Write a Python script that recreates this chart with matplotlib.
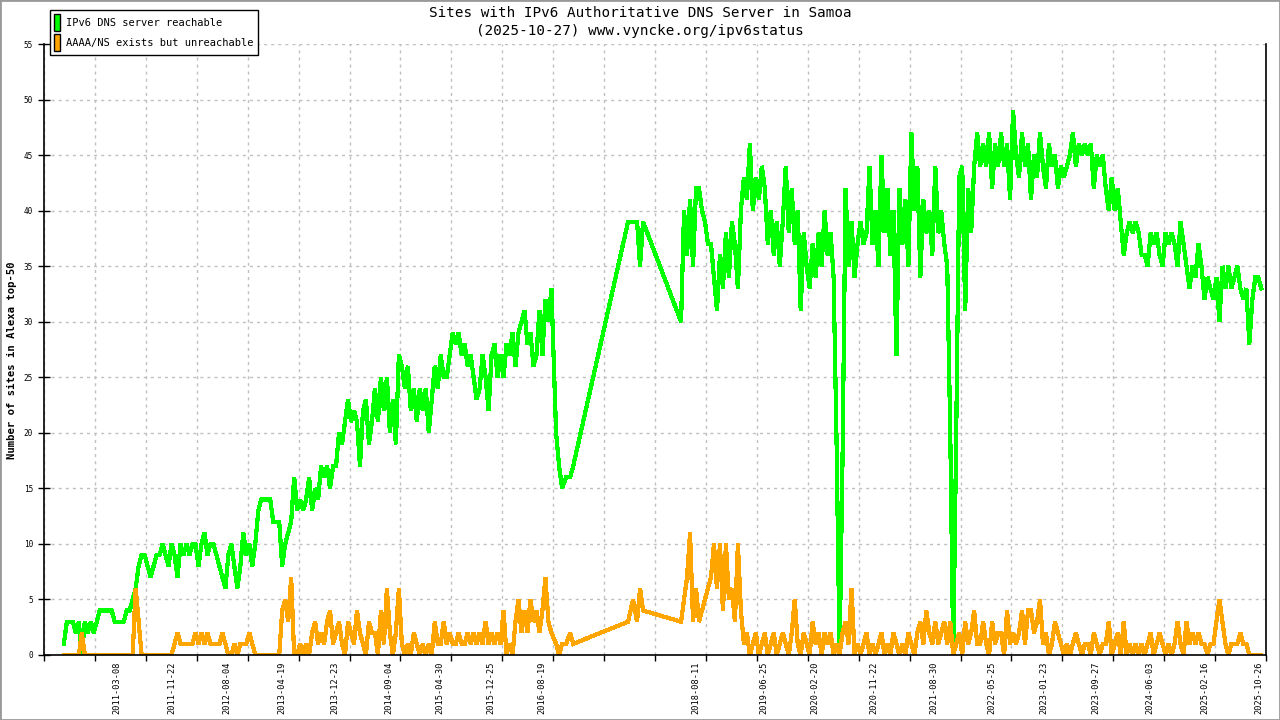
#!/usr/bin/env python3
"""Sites with IPv6 authoritative DNS server in Samoa"""
import numpy as np
import matplotlib
matplotlib.use("Agg")
import matplotlib.pyplot as plt
import matplotlib.dates as mdates
from matplotlib.patches import Patch, Rectangle

# first stretch of samples, every 14 days
start_a = np.datetime64("2010-06-14")
green_a = [1, 3, 3, 3, 2, 3, 0, 3, 2, 3,
           2, 3, 4, 4, 4, 4, 4, 3, 3, 3,
           3, 4, 4, 5, 6, 8, 9, 9, 8, 7,
           8, 9, 9, 10, 9, 8, 10, 9, 7, 10,
           9, 10, 9, 10, 10, 8, 10, 11, 9, 10,
           10, 9, 8, 7, 6, 9, 10, 8, 6, 8,
           11, 9, 10, 8, 10, 13, 14, 14, 14, 14,
           12, 12, 12, 8, 10, 11, 12, 16, 13, 14,
           13, 14, 16, 13, 15, 14, 17, 16, 17, 15,
           17, 17, 20, 19, 21, 23, 21, 22, 21, 17,
           22, 23, 19, 21,
           24, 21, 25, 22, 25, 20, 23, 19, 27, 26,
           24, 26, 22, 24, 21, 24, 22, 24, 20, 23,
           26, 24, 27, 25, 25, 27, 29, 28, 29, 27,
           28, 26, 27, 25, 23, 24, 27, 25, 22, 27,
           28, 25, 27, 25, 28, 27, 29, 26, 29, 30,
           31, 28, 29, 26, 27, 31, 27, 32, 30, 33]
orange_a = [0, 0, 0, 0, 0, 0, 2, 0, 0, 0,
            0, 0, 0, 0, 0, 0, 0, 0, 0, 0,
            0, 0, 0, 0, 6, 3, 0, 0, 0, 0,
            0, 0, 0, 0, 0, 0, 0, 1, 2, 1,
            1, 1, 1, 1, 2, 1, 2, 1, 2, 1,
            1, 1, 1, 2, 1, 0, 0, 1, 0, 1,
            1, 1, 2, 1, 0, 0, 0, 0, 0, 0,
            0, 0, 0, 4, 5, 3, 7, 0, 0, 1,
            0, 1, 0, 2, 3, 1, 2, 1, 3, 4,
            1, 2, 3, 1, 0, 3, 2, 1, 4, 2,
            1, 0, 3, 2,
            2, 0, 4, 1, 6, 2, 0, 2, 6, 1,
            0, 1, 0, 2, 1, 0, 1, 0, 1, 0,
            3, 1, 1, 3, 1, 2, 1, 1, 2, 1,
            1, 2, 1, 2, 1, 2, 1, 3, 1, 2,
            1, 2, 1, 4, 0, 1, 0, 3, 5, 2,
            4, 2, 5, 3, 4, 2, 4, 7, 3, 2]

# sparse samples 2016-2017
gap_dates = ["2016-10-04", "2016-10-18", "2016-11-01", "2016-11-20",
             "2016-12-09", "2016-12-23", "2017-09-06", "2017-09-29",
             "2017-10-18", "2017-11-01", "2017-11-15"]
green_gap = [20, 17, 15, 16, 16, 17, 39, 39, 39, 35, 39]
orange_gap = [1, 0, 1, 1, 2, 1, 3, 5, 3, 6, 4]

# second stretch of samples, every 14 days
start_b = np.datetime64("2018-05-12")
green_b = [30, 40, 36, 41, 35, 42, 42, 40, 39, 37,
           37, 34, 31, 36, 33, 38, 34, 39, 37, 33,
           40, 43, 41, 46, 40, 43, 41, 44, 42, 37,
           40, 36, 39, 35, 39, 44, 38, 42, 37, 40,
           31, 38, 35, 33, 37, 34, 38, 35, 40, 36,
           38, 34, 19, 0, 18, 42, 35, 39, 34, 37,
           39, 37, 38, 44, 37, 40, 35, 45, 38, 42,
           36, 40, 27, 42, 37, 41, 35, 47, 40, 44,
           34, 41, 38, 40, 36, 44, 38, 40, 37, 35,
           20, 0, 20, 43, 44, 31, 42, 38, 44, 47,
           44, 46, 44, 47, 42, 46, 44, 47, 44, 46,
           41, 49, 45, 43, 47, 44, 46, 41, 45, 43,
           47, 44, 42, 46, 44, 45, 42, 44, 43, 44,
           45, 47, 44, 46, 45, 46, 45, 46, 42, 45,
           44, 45, 42, 40, 43, 40, 42, 39, 36, 38,
           39, 38, 39, 38, 36, 36, 35, 38, 37, 38,
           36, 35, 38, 37, 38, 37, 35, 39, 37, 35,
           33, 35, 34, 37, 35, 32, 34, 33, 32, 34,
           30, 35, 33, 35, 33, 34, 35, 33, 32, 33,
           28, 32, 34, 34, 33]
orange_b = [3, 5, 7, 11, 3, 6, 3, 4, 5, 6,
            7, 10, 6, 10, 4, 10, 5, 6, 3, 10,
            4, 1, 2, 0, 1, 2, 0, 1, 2, 0,
            1, 2, 0, 1, 2, 1, 0, 2, 5, 1,
            0, 2, 1, 0, 3, 1, 2, 0, 2, 1,
            2, 0, 1, 0, 2, 3, 1, 6, 0, 1,
            0, 1, 2, 0, 1, 0, 1, 2, 0, 1,
            0, 2, 1, 0, 1, 0, 2, 1, 0, 2,
            3, 1, 4, 2, 1, 3, 1, 2, 3, 1,
            3, 0, 1, 2, 0, 3, 1, 2, 4, 1,
            1, 3, 1, 0, 3, 1, 2, 2, 0, 4,
            1, 2, 1, 2, 4, 1, 4, 4, 2, 3,
            5, 1, 2, 0, 1, 3, 2, 1, 0, 1,
            0, 1, 2, 1, 0, 1, 1, 0, 2, 1,
            0, 1, 1, 3, 0, 1, 2, 0, 3, 0,
            1, 0, 1, 0, 1, 0, 1, 2, 0, 1,
            2, 1, 0, 1, 0, 1, 3, 1, 0, 3,
            1, 2, 1, 2, 1, 1, 0, 1, 1, 3,
            5, 3, 1, 0, 1, 1, 1, 2, 1, 1,
            0, 0, 0, 0, 0]

date_labels = ["2011-03-08", "2011-11-22", "2012-08-04", "2013-04-19",
               "2013-12-23", "2014-09-04", "2015-04-30", "2015-12-25",
               "2016-08-19", "2018-08-11", "2019-06-25", "2020-02-20",
               "2020-11-22", "2021-08-30", "2022-05-25", "2023-01-23",
               "2023-09-27", "2024-06-03", "2025-02-16", "2025-10-26"]

title = "Sites with IPv6 Authoritative DNS Server in Samoa"
subtitle = "(2025-10-27) www.vyncke.org/ipv6status"
labels = ["IPv6 DNS server reachable", "AAAA/NS exists but unreachable"]
GREEN = "#00ff00"
ORANGE = "#ffa500"
MONO = "DejaVu Sans Mono"

plt.rcParams["font.family"] = MONO
plt.rcParams["lines.scale_dashes"] = False

dates_a = start_a + np.arange(len(green_a)) * np.timedelta64(14, "D")
dates_b = start_b + np.arange(len(green_b)) * np.timedelta64(14, "D")
dates = np.concatenate([dates_a, np.array(gap_dates, dtype="datetime64[D]"),
                        dates_b])
green = np.concatenate([green_a, green_gap, green_b])
orange = np.concatenate([orange_a, orange_gap, orange_b])

fig = plt.figure(figsize=(12.8, 7.2), dpi=100)
ax = fig.add_axes([44 / 1280, 65 / 720, 1222 / 1280, 611 / 720])

ax.plot(dates, green, color=GREEN, lw=2.3, antialiased=False,
        solid_joinstyle="miter")
ax.plot(dates, orange, color=ORANGE, lw=2.3, antialiased=False,
        solid_joinstyle="miter")

xmin = mdates.date2num(np.datetime64("2010-03-13"))
xmax = mdates.date2num(np.datetime64("2025-11-09"))
ax.set_xlim(xmin, xmax)
ax.set_ylim(0, 55)

# regular grid ticks plus data-date labels
ax.set_xticks(np.linspace(xmin, xmax, 25))
ax.set_xticklabels([])
ax.set_xticks(mdates.date2num(np.array(date_labels, dtype="datetime64[D]")),
              minor=True)
ax.set_xticklabels(date_labels, minor=True, rotation=90, ha="right",
                   fontsize=6.2)
ax.tick_params(axis="x", which="minor", length=0, pad=5)
ax.tick_params(axis="x", which="major", direction="out", length=4, width=1)
ax.set_yticks(range(0, 56, 5))
ax.tick_params(axis="y", direction="inout", length=8, width=1,
               labelsize=5.6, pad=4)

ax.grid(which="major", color="#c0c0c0", lw=1.0, linestyle=(0, (2.2, 2.9)))
ax.set_axisbelow(True)
ax.spines["top"].set_visible(False)
for s in ("left", "bottom", "right"):
    ax.spines[s].set_linewidth(1.2)

fig.text(0.5, 1 - 13 / 720, title, ha="center", va="center", fontsize=10.3)
fig.text(0.5, 1 - 31 / 720, subtitle, ha="center", va="center", fontsize=10.3)
fig.text(12 / 1280, 1 - 360 / 720, "Number of sites in Alexa top-50",
         rotation=90, ha="center", va="center", fontsize=7.6,
         fontweight="bold")

handles = [Patch(facecolor=GREEN, edgecolor="black", lw=1),
           Patch(facecolor=ORANGE, edgecolor="black", lw=1)]
leg = fig.legend(handles, labels, loc="upper left",
                 bbox_to_anchor=(50 / 1280, 1 - 10 / 720),
                 fancybox=False, framealpha=1, edgecolor="black",
                 handlelength=0.55, handleheight=2.1, handletextpad=0.6,
                 borderpad=0.4, labelspacing=0.3, borderaxespad=0,
                 prop={"family": MONO, "size": 7.5})
leg.get_frame().set_linewidth(1.0)

fig.patches.append(Rectangle((0, 0), 1, 1, transform=fig.transFigure,
                             fill=False, edgecolor="#999999", lw=2))

fig.savefig("out.png", dpi=100)
